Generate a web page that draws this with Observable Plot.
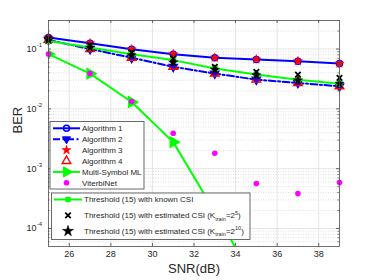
<!DOCTYPE html>
<html><head><meta charset="utf-8">
<script src="https://cdn.jsdelivr.net/npm/d3@7"></script>
<script src="https://cdn.jsdelivr.net/npm/@observablehq/plot@0.6"></script>
<style>body{margin:0;background:#fff} #chart{position:relative;width:374px;height:280px}</style>
</head><body><div id="chart"></div>
<script>
const snr = [25, 27, 29, 31, 33, 35, 37, 39];
const algorithm1 = [0.156, 0.125, 0.099, 0.082, 0.0717, 0.067, 0.0628, 0.0574];
const algorithm2 = [0.142, 0.100, 0.0716, 0.0505, 0.0389, 0.0308, 0.0271, 0.0238];
const algorithm3 = [0.156, 0.125, 0.099, 0.082, 0.0717, 0.067, 0.0628, 0.0574];
const algorithm4 = [0.142, 0.100, 0.0716, 0.0505, 0.0389, 0.0308, 0.0271, 0.0238];
const multiSymbolML = [0.0824, 0.0389, 0.0130, 0.00278, 0.00019, 0.000012];
const viterbiNet = [0.0824, 0.0389, 0.0133, 0.0039, 0.00181, 0.000565, 0.000383, 0.000587];
const thresholdKnown = [0.136, 0.106, 0.0815, 0.0653, 0.0473, 0.0374, 0.0308, 0.0264];
const thresholdEst5 = [0.150, 0.115, 0.088, 0.070, 0.0505, 0.0416, 0.0374, 0.033];
const thresholdEst10 = [0.142, 0.106, 0.079, 0.0597, 0.0454, 0.0364, 0.030, 0.0264];

const xTicks = [26, 28, 30, 32, 34, 36, 38];
const yTicks = [1e-4, 1e-3, 1e-2, 1e-1];
const yTickExp = ["-4", "-3", "-2", "-1"];
const yMinor = [6e-5,7e-5,8e-5,9e-5,2e-4,3e-4,4e-4,5e-4,6e-4,7e-4,8e-4,9e-4,
  2e-3,3e-3,4e-3,5e-3,6e-3,7e-3,8e-3,9e-3,2e-2,3e-2,4e-2,5e-2,6e-2,7e-2,8e-2,9e-2,0.2,0.3];
const xLabel = "SNR(dB)";
const yLabel = "BER";

const pts = (vals) => vals.map((v, i) => ({x: snr[i], y: v}));
const BLUE = "#0000ff", RED = "#ff0000", GREEN = "#00ff00", MAG = "#ff00ff", BLK = "#000000";
const FONT = "'Liberation Sans', Arial, Helvetica, sans-serif";
const W = 374, H = 280, ML = 48, MR = 35, MT = 20, MB = 34;
const FW = W - ML - MR, FH = H - MT - MB;
const STAR_R = 2.9;

const plot = Plot.plot({
  width: W, height: H, marginLeft: ML, marginRight: MR, marginTop: MT, marginBottom: MB,
  style: {fontFamily: FONT, fontSize: "9px", background: "white", color: "#262626"},
  x: {domain: [25, 39], axis: null},
  y: {type: "log", domain: [5e-5, 0.3], axis: null},
  marks: [
    Plot.ruleY(yMinor, {stroke: "#c8c8c8", strokeDasharray: "1,1.5", strokeWidth: 0.6}),
    Plot.ruleY(yTicks, {stroke: "#e2e2e2", strokeWidth: 0.9}),
    Plot.ruleX(xTicks, {stroke: "#e2e2e2", strokeWidth: 0.9}),
    Plot.tickX(xTicks, {x: d => d, insetTop: FH - 3, stroke: "#262626", strokeWidth: 0.7}),
    Plot.tickX(xTicks, {x: d => d, insetBottom: FH - 3, stroke: "#262626", strokeWidth: 0.7}),
    Plot.tickY(yTicks, {y: d => d, insetRight: FW - 3, stroke: "#262626", strokeWidth: 0.7}),
    Plot.tickY(yTicks, {y: d => d, insetLeft: FW - 3, stroke: "#262626", strokeWidth: 0.7}),
    Plot.tickY(yMinor, {y: d => d, insetRight: FW - 1.8, stroke: "#262626", strokeWidth: 0.5}),
    Plot.tickY(yMinor, {y: d => d, insetLeft: FW - 1.8, stroke: "#262626", strokeWidth: 0.5}),
    Plot.text(xTicks, {x: d => d, frameAnchor: "bottom", dy: 10, text: d => String(d), fill: "#262626", fontSize: 9}),
    Plot.text(yTicks, {y: d => d, frameAnchor: "left", dx: -12, textAnchor: "end", text: () => "10", fill: "#262626", fontSize: 9}),
    Plot.text(yTicks, {y: d => d, frameAnchor: "left", dx: -11.8, dy: -4, textAnchor: "start", text: (d, i) => yTickExp[i], fill: "#262626", fontSize: 6}),
    Plot.text([xLabel], {frameAnchor: "bottom", dy: 26, text: d => d, fill: "#262626", fontSize: 13}),
    Plot.text([yLabel], {frameAnchor: "left", dx: -31, rotate: -90, text: d => d, fill: "#262626", fontSize: 13}),
    Plot.line(pts(algorithm1), {x: "x", y: "y", stroke: BLUE, strokeWidth: 2}),
    Plot.dot(pts(algorithm1), {x: "x", y: "y", symbol: "circle", r: 3, stroke: BLUE, strokeWidth: 1.5, fill: "none"}),
    Plot.line(pts(algorithm2), {x: "x", y: "y", stroke: BLUE, strokeWidth: 2, strokeDasharray: "7,2.5,2,2.5"}),
    Plot.dot(pts(algorithm2), {x: "x", y: "y", symbol: "triangle", rotate: 180, r: 3, fill: BLUE, stroke: BLUE}),
    Plot.dot(pts(algorithm3), {x: "x", y: "y", symbol: "star", r: STAR_R, fill: RED, stroke: RED, strokeWidth: 0.5}),
    Plot.dot(pts(algorithm4), {x: "x", y: "y", symbol: "triangle", r: 3.2, fill: "none", stroke: RED, strokeWidth: 1.4}),
    Plot.line(pts(multiSymbolML), {x: "x", y: "y", stroke: GREEN, strokeWidth: 2, clip: true}),
    Plot.dot(pts(multiSymbolML), {x: "x", y: "y", symbol: "triangle", rotate: 90, r: 3.8, fill: GREEN, stroke: GREEN, clip: true}),
    Plot.dot(pts(viterbiNet), {x: "x", y: "y", symbol: "circle", r: 2.8, fill: MAG}),
    Plot.line(pts(thresholdKnown), {x: "x", y: "y", stroke: GREEN, strokeWidth: 2}),
    Plot.dot(pts(thresholdKnown), {x: "x", y: "y", symbol: "square", r: 2.5, fill: GREEN, stroke: GREEN}),
    Plot.dot(pts(thresholdEst5), {x: "x", y: "y", symbol: "times", r: 2.6, stroke: BLK, strokeWidth: 1.8}),
    Plot.dot(pts(thresholdEst10), {x: "x", y: "y", symbol: "star", r: STAR_R, fill: BLK, stroke: BLK, strokeWidth: 0.5}),
    Plot.frame({stroke: "#4d4d4d", strokeWidth: 0.8})
  ]
});
document.getElementById("chart").appendChild(plot);

const svg = d3.select(plot.tagName.toLowerCase() === "svg" ? plot : plot.querySelector("svg"));
const sym = (type, r) => d3.symbol(type, r * r * Math.PI)();
function legendBox(x, y, w, h) {
  svg.append("rect").attr("x", x).attr("y", y).attr("width", w).attr("height", h)
    .attr("fill", "white").attr("stroke", "#5a5a5a").attr("stroke-width", 0.9);
}
const legend1 = [
  {label: "Algorithm 1", line: BLUE, dash: null, sym: d3.symbolCircle, r: 3, fill: "none", stroke: BLUE, sw: 1.5, rot: 0},
  {label: "Algorithm 2", line: BLUE, dash: "7,2.5,2,2.5", sym: d3.symbolTriangle, r: 3, fill: BLUE, stroke: BLUE, sw: 1, rot: 180},
  {label: "Algorithm 3", line: null, sym: d3.symbolStar, r: STAR_R, fill: RED, stroke: RED, sw: 0.5, rot: 0},
  {label: "Algorithm 4", line: null, sym: d3.symbolTriangle, r: 3.2, fill: "none", stroke: RED, sw: 1.4, rot: 0},
  {label: "Multi-Symbol ML", line: GREEN, dash: null, sym: d3.symbolTriangle, r: 3.8, fill: GREEN, stroke: GREEN, sw: 1, rot: 90},
  {label: "ViterbiNet", line: null, sym: d3.symbolCircle, r: 2.8, fill: MAG, stroke: "none", sw: 0, rot: 0}
];
legendBox(50, 121.5, 94, 67.5);
legend1.forEach((d, i) => {
  const y = 128.3 + i * 10.9;
  if (d.line) svg.append("line").attr("x1", 53).attr("x2", 80).attr("y1", y).attr("y2", y)
    .attr("stroke", d.line).attr("stroke-width", 2).attr("stroke-dasharray", d.dash);
  svg.append("path").attr("d", sym(d.sym, d.r)).attr("transform", `translate(66.5,${y}) rotate(${d.rot})`)
    .attr("fill", d.fill).attr("stroke", d.stroke).attr("stroke-width", d.sw);
  svg.append("text").attr("x", 82).attr("y", y).attr("dy", "0.35em").attr("font-size", 8)
    .attr("text-anchor", "start").attr("font-family", FONT).attr("fill", "#262626").text(d.label);
});

legendBox(51.5, 193, 198.5, 46.5);
const legend2 = [
  {pre: "Threshold (15) with known CSI", line: GREEN, sym: d3.symbolSquare, r: 2.5, fill: GREEN, stroke: GREEN, sw: 1},
  {pre: "Threshold (15) with estimated CSI (K", sub: "train", mid: "=2", sup: "5", post: ")", line: null, sym: d3.symbolTimes, r: 2.6, fill: "none", stroke: BLK, sw: 1.8},
  {pre: "Threshold (15) with estimated CSI (K", sub: "train", mid: "=2", sup: "10", post: ")", line: null, sym: d3.symbolStar, r: STAR_R + 0.6, fill: BLK, stroke: BLK, sw: 0.5}
];
legend2.forEach((d, i) => {
  const y = 199.5 + i * 15.8;
  if (d.line) svg.append("line").attr("x1", 54).attr("x2", 82).attr("y1", y).attr("y2", y)
    .attr("stroke", d.line).attr("stroke-width", 2);
  svg.append("path").attr("d", sym(d.sym, d.r)).attr("transform", `translate(68,${y})`)
    .attr("fill", d.fill).attr("stroke", d.stroke).attr("stroke-width", d.sw);
  const t = svg.append("text").attr("x", 84).attr("y", y).attr("dy", "0.35em").attr("font-size", 8)
    .attr("text-anchor", "start").attr("font-family", FONT).attr("fill", "#262626");
  t.append("tspan").text(d.pre);
  if (d.sub) {
    t.append("tspan").attr("font-size", 5.5).attr("dy", 2.5).text(d.sub);
    t.append("tspan").attr("dy", -2.5).text(d.mid);
    t.append("tspan").attr("font-size", 5.5).attr("dy", -3.5).text(d.sup);
    t.append("tspan").attr("dy", 3.5).text(d.post);
  }
});
</script>
</body></html>
